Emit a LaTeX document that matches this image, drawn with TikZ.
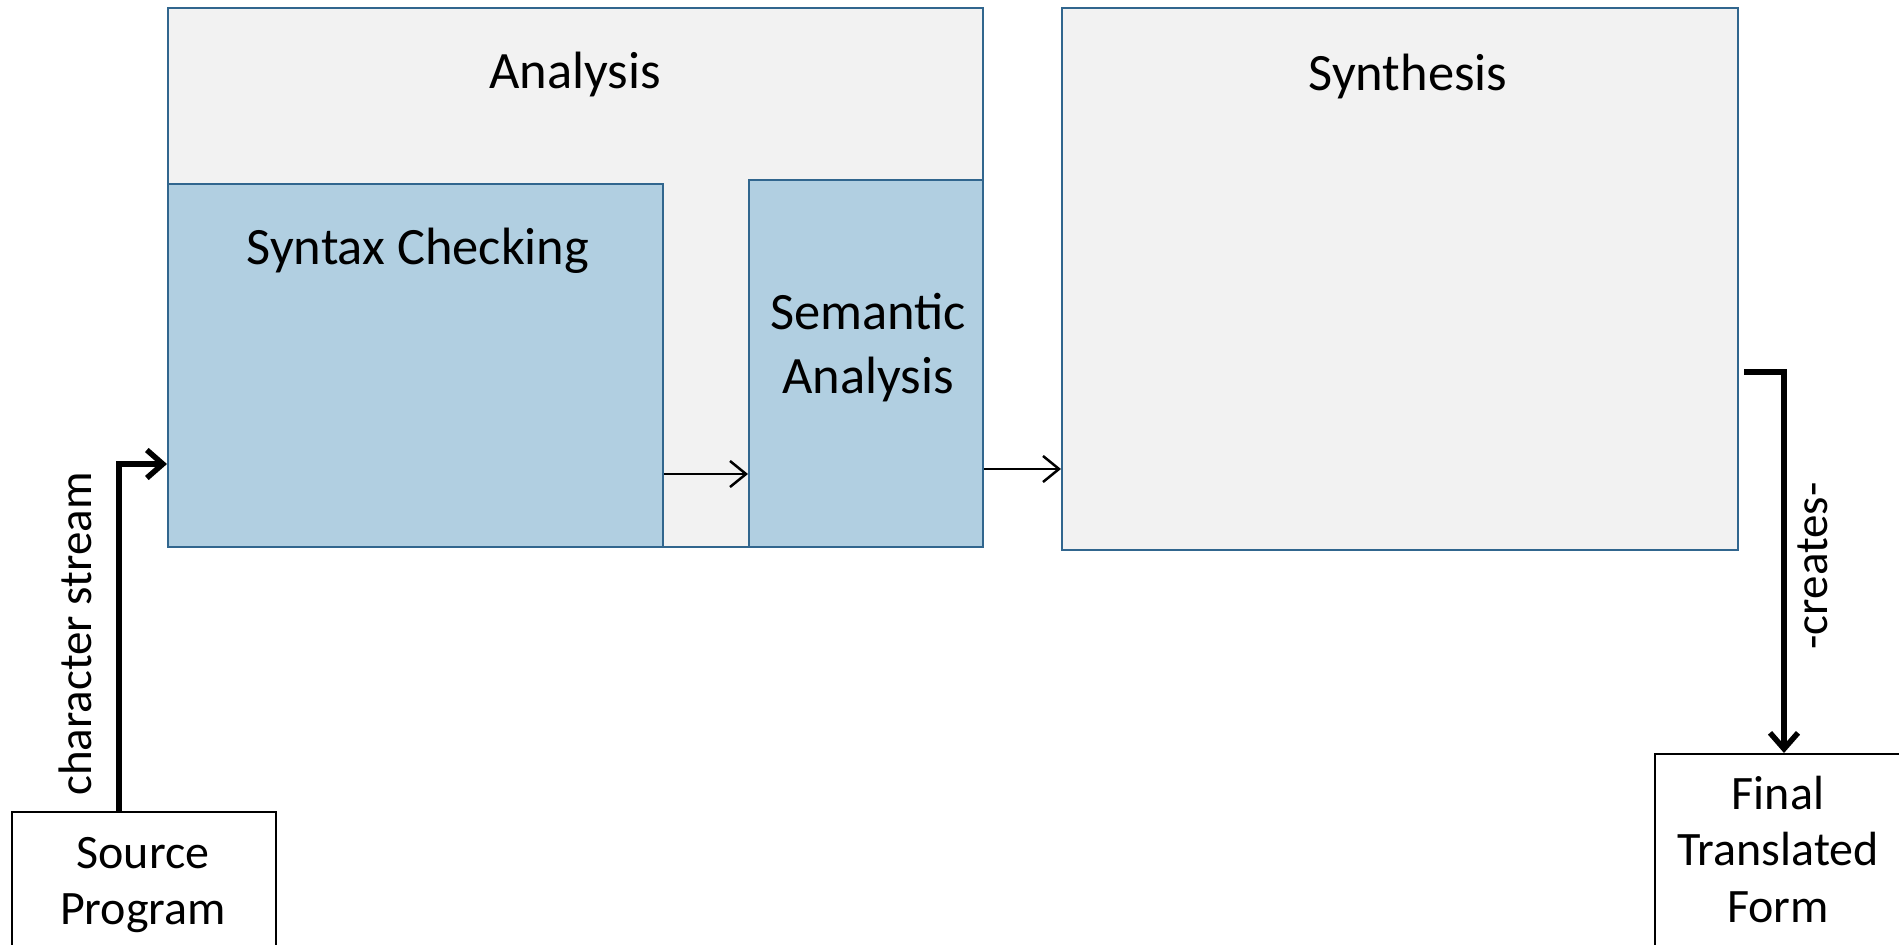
\documentclass[tikz,border=0pt]{standalone}
\usepackage{fontspec}
\setmainfont{Carlito}
\usetikzlibrary{arrows.meta}
\definecolor{edgeblue}{HTML}{31668E}
\definecolor{panelgray}{HTML}{F2F2F2}
\definecolor{stageblue}{HTML}{B1CFE1}
\tikzset{
  panel/.style={draw=edgeblue, line width=2.2pt, fill=panelgray, anchor=north west, inner sep=0pt},
  stage/.style={draw=edgeblue, line width=2.2pt, fill=stageblue, anchor=north west, inner sep=0pt},
  endbox/.style={draw=black, line width=1.5pt, fill=white, anchor=north west, inner sep=0pt},
  caption/.style={font=\fontsize{52.5}{64}\selectfont, align=center, inner sep=0pt},
  endcaption/.style={font=\fontsize{48}{56.5}\selectfont, align=center, inner sep=0pt},
  flowlabel/.style={font=\fontsize{47}{57}\selectfont, inner sep=0pt, rotate=90},
  thinflow/.style={line width=2pt, -{Straight Barb[length=16pt, width=26pt, line width=2.5pt]}},
  boldflow/.style={line width=5.5pt, -{Straight Barb[length=16pt, width=28pt, line width=5.5pt]}}
}
\begin{document}
\begin{tikzpicture}[x=1pt, y=-1pt]
\useasboundingbox (0,0) rectangle (1899,945);

% front end and back end containers
\node[panel, minimum width=815pt, minimum height=539pt] (ana) at (167,7) {};
\node[panel, minimum width=676pt, minimum height=542pt] (syn) at (1061,7) {};

% phases inside the analysis part
\node[stage, minimum width=495pt, minimum height=363pt] (chk) at (167,183) {};
\node[stage, minimum width=234pt, minimum height=367pt] (sem) at (748,179) {};

% input and output
\node[endbox, minimum width=264pt, minimum height=160pt] (src) at (11,811) {};
\node[endbox, minimum width=260pt, minimum height=210pt] (fin) at (1654,753) {};

% captions
\node[caption] (anaT) at (575,75) {Analysis};
\node[caption] (synT) at (1408,77) {Synthesis};
\node[caption] (chkT) at (418,251) {Syntax Checking};
\node[caption] (semT) at (868,348) {Semantic\\Analysis};
\node[endcaption] (srcT) at (143,885) {Source\\Program};
\node[endcaption] (finT) at (1778,849) {Final\\Translated\\Form};

% connectors
\coordinate (srcOut) at (119,811);
\draw[boldflow] (srcOut) |- (chk.west |- 0,464);
\draw[thinflow] (chk.east |- 0,474) -- (sem.west |- 0,474);
\draw[thinflow] (sem.east |- 0,469) -- (syn.west |- 0,469);
\coordinate (synOut) at (1744,372);
\coordinate (finIn) at (1784,753);
\draw[boldflow] (synOut) -| (finIn);

% connector labels
\node[flowlabel] (csT) at (75,634) {character stream};
\node[flowlabel] (crT) at (1813,566) {-creates-};
\end{tikzpicture}
\end{document}
